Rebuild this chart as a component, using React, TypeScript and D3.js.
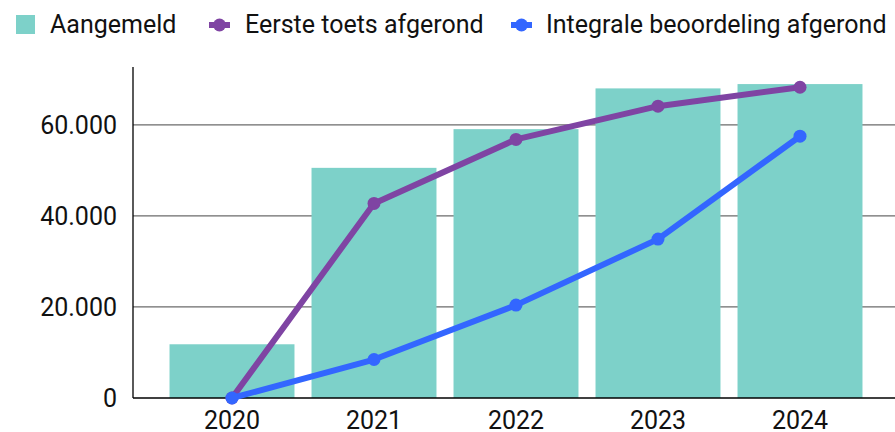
import React from "react";
import * as d3 from "d3";

const years = ["2020", "2021", "2022", "2023", "2024"];
const aangemeld = [11800, 50550, 59050, 68000, 68950];
const eersteToets = [0, 42730, 56800, 64100, 68250];
const integrale = [0, 8450, 20400, 34900, 57500];
const yTicks = [0, 20000, 40000, 60000];

const W = 895;
const H = 432;
const left = 133;
const top = 67;
const bottom = 398;

const teal = "#7DD1C9";
const purple = "#7F44A3";
const blue = "#3366FF";
const font = "Roboto, 'Noto Sans', sans-serif";
const fs = 25;

export default function App() {
  const x = d3
    .scaleBand<string>()
    .domain(years)
    .range([161, 871])
    .paddingInner(0.12)
    .paddingOuter(0.06);
  const y = d3.scaleLinear().domain([0, 72700]).range([bottom, top]);
  const cx = (d: string) => (x(d) as number) + x.bandwidth() / 2;
  const line = d3
    .line<number>()
    .x((_, i) => cx(years[i]))
    .y((v) => y(v));
  const fmt = (v: number) => (v === 0 ? "0" : d3.format(",")(v).replace(/,/g, "."));

  return (
    <svg
      width={W}
      height={H}
      style={{ position: "absolute", left: 0, top: 0, background: "#fff" }}
      fontFamily={font}
    >
      {yTicks
        .filter((t) => t > 0)
        .map((t) => (
          <line key={t} x1={left} x2={W} y1={y(t)} y2={y(t)} stroke="#6b6b6b" strokeWidth={1.3} />
        ))}
      {years.map((yr, i) => (
        <rect
          key={yr}
          x={x(yr)}
          y={y(aangemeld[i])}
          width={x.bandwidth()}
          height={y(0) - y(aangemeld[i])}
          fill={teal}
        />
      ))}
      <line x1={left} x2={left} y1={top} y2={bottom} stroke="#000" strokeWidth={1.3} />
      <line x1={left} x2={W} y1={bottom} y2={bottom} stroke="#000" strokeWidth={1.3} />
      {yTicks.map((t) => (
        <text key={t} x={117} y={y(t) + 9} textAnchor="end" fontSize={fs} fill="#111">
          {fmt(t)}
        </text>
      ))}
      {years.map((yr) => (
        <text key={yr} x={cx(yr)} y={429} textAnchor="middle" fontSize={fs} fill="#111">
          {yr}
        </text>
      ))}
      <path d={line(eersteToets) || ""} fill="none" stroke={purple} strokeWidth={6} strokeLinejoin="round" />
      {eersteToets.map((v, i) => (
        <circle key={i} cx={cx(years[i])} cy={y(v)} r={6.5} fill={purple} />
      ))}
      <path d={line(integrale) || ""} fill="none" stroke={blue} strokeWidth={6} strokeLinejoin="round" />
      {integrale.map((v, i) => (
        <circle key={i} cx={cx(years[i])} cy={y(v)} r={6.5} fill={blue} />
      ))}
      <rect x={16} y={15} width={19} height={19} fill={teal} />
      <text x={50} y={33} fontSize={fs} fill="#111">Aangemeld</text>
      <line x1={209} x2={230} y1={25} y2={25} stroke={purple} strokeWidth={6} />
      <circle cx={219.5} cy={25} r={6.5} fill={purple} />
      <text x={245} y={33} fontSize={fs} fill="#111">Eerste toets afgerond</text>
      <line x1={511} x2={532} y1={25} y2={25} stroke={blue} strokeWidth={6} />
      <circle cx={521.5} cy={25} r={6.5} fill={blue} />
      <text x={546} y={33} fontSize={fs} fill="#111">Integrale beoordeling afgerond</text>
    </svg>
  );
}
